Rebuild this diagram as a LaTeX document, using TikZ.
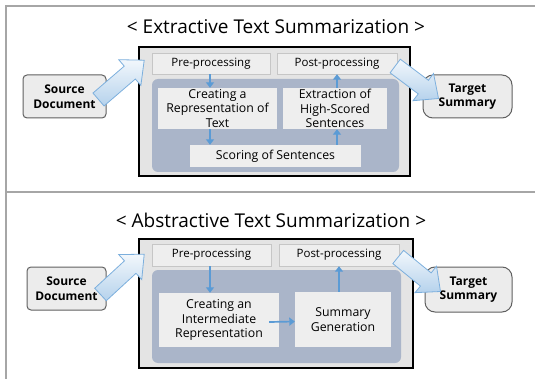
\documentclass[tikz,border=0pt]{standalone}
\usepackage{fontspec}
\setmainfont{Open Sans}
\usetikzlibrary{arrows.meta,calc}

\definecolor{framegray}{HTML}{A6A6A6}
\definecolor{boxgray}{HTML}{E4E4E4}
\definecolor{cellgray}{HTML}{EEEEEE}
\definecolor{zonecol}{HTML}{AAB5C9}
\definecolor{flowblue}{HTML}{5B9BD5}

% толстая стрелка от точки #1 к точке #2
\newcommand{\bigarrow}[2]{%
    \path[bigarrow] ($(#1)!8.5pt!90:(#2)$) -- ($($(#2)!19pt!(#1)$)!8.5pt!-90:(#1)$)
        -- ($($(#2)!19pt!(#1)$)!17pt!-90:(#1)$) -- (#2)
        -- ($($(#2)!19pt!(#1)$)!17pt!90:(#1)$) -- ($($(#2)!19pt!(#1)$)!8.5pt!90:(#1)$)
        -- ($(#1)!8.5pt!-90:(#2)$) -- cycle;}

\begin{document}
\begin{tikzpicture}[
        x=1pt, y=-1pt, % координаты в пикселях, ось y вниз
        framing/.style = {draw=framegray, line width=1.3pt},
        heading/.style = {font=\fontsize{19}{22}\selectfont},
        mainbox/.style = {draw=black, line width=1.6pt, fill=boxgray, inner sep=0},
        stage/.style = {draw=gray!45, fill=cellgray, inner sep=0, font=\fontsize{11.5}{13}\selectfont},
        zone/.style = {fill=zonecol, rounded corners=6pt, inner sep=0},
        cell/.style = {fill=cellgray, inner sep=0, align=center, font=\fontsize{12.3}{14.5}\selectfont}, % блоки внутри
        doc/.style = {draw=gray!75!black, line width=1pt, fill=gray!15, rounded corners=4pt, inner sep=0,
                align=center, font=\bfseries\fontsize{12}{14.5}\selectfont},
        flow/.style = {draw=flowblue, line width=1.7pt, -{Triangle[length=5.5pt,width=8pt]}},
        bigarrow/.style = {draw=flowblue!80, line width=0.8pt, line join=miter,
                top color=flowblue!8, bottom color=flowblue!45},
    ]
    \useasboundingbox (0,0) rectangle (535,379);
    \clip (0,0) rectangle (535,379);

    % рамка таблицы
    \draw[framing] (6,400) -- (6,6) -- (560,6);
    \draw[framing] (6,192) -- (560,192);

    % верхняя часть
    \node[heading] (t1) at (276,27) {< Extractive Text Summarization >};
    \node[mainbox, minimum width=271pt, minimum height=129pt] (m1) at (274.5,111.5) {};
    \node[stage, minimum width=118pt, minimum height=21pt] (pre1) at (211,63.5) {Pre-processing};
    \node[stage, minimum width=120pt, minimum height=21pt] (post1) at (337,63.5) {Post-processing};
    \node[zone, minimum width=247pt, minimum height=93pt] (z1) at (275.5,125.5) {};
    \node[cell, minimum width=119pt, minimum height=41pt] (rep1) at (217.5,108.5) {Creating a\\Representation of\\Text};
    \node[cell, minimum width=104pt, minimum height=41pt] (ext1) at (335,108.5) {Extraction of\\High-Scored\\Sentences};
    \node[cell, minimum width=171pt, minimum height=22pt] (sco1) at (275.5,156) {Scoring of Sentences};
    \node[doc, minimum width=83pt, minimum height=43pt] (src1) at (64.5,96.5) {Source\\Document};
    \node[doc, rounded corners=10pt, minimum width=89pt, minimum height=43pt] (tgt1) at (467.5,96.5) {Target\\Summary};

    \draw[flow] ([xshift=-1pt]pre1.south) -- ([xshift=-1pt]pre1.south |- rep1.north);
    \draw[flow] (rep1.south -| 210,0) -- (sco1.north -| 210,0);
    \draw[flow] (sco1.north -| post1.south) -- (ext1.south -| post1.south);
    \draw[flow] (ext1.north -| post1.south) -- (post1.south);

    \coordinate (in1a) at ([xshift=-8pt,yshift=-3pt]src1.east);
    \coordinate (in1b) at ([xshift=6pt,yshift=-14pt]m1.north west);
    \bigarrow{in1a}{in1b}
    \coordinate (out1a) at ([xshift=-2pt,yshift=-2.5pt]post1.east);
    \coordinate (out1b) at ([xshift=16pt,yshift=-2pt]tgt1.west);
    \bigarrow{out1a}{out1b}

    % нижняя часть
    \begin{scope}[shift={(0,190)}]
        \node[heading] (t2) at (271,30) {< Abstractive Text Summarization >};
        \node[mainbox, minimum width=274pt, minimum height=129pt] (m2) at (276,113.5) {};
        \node[stage, minimum width=119pt, minimum height=22pt] (pre2) at (211.5,65) {Pre-processing};
        \node[stage, minimum width=120pt, minimum height=22pt] (post2) at (339,65) {Post-processing};
        \node[zone, minimum width=249pt, minimum height=93pt] (z2) at (276.5,126.5) {};
        \node[cell, minimum width=120pt, minimum height=54pt] (rep2) at (219,130) {Creating an\\Intermediate\\Representation};
        \node[cell, minimum width=96pt, minimum height=55pt] (gen2) at (343,129.5) {Summary\\Generation};
        \node[doc, minimum width=79pt, minimum height=43pt] (src2) at (66.5,98.5) {Source\\Document};
        \node[doc, rounded corners=10pt, minimum width=87pt, minimum height=45pt] (tgt2) at (468.5,99.5) {Target\\Summary};

        \draw[flow] ([xshift=-1.5pt]pre2.south) -- ([xshift=-1.5pt]pre2.south |- rep2.north);
        \draw[flow] ([xshift=-10pt,yshift=-2pt]rep2.east) -- ([yshift=-2pt]gen2.west);
        \draw[flow] (gen2.north -| post2.south) -- (post2.south);

        \coordinate (in2a) at ([xshift=-6pt,yshift=-6pt]src2.east);
        \coordinate (in2b) at ([xshift=6pt,yshift=-16pt]m2.north west);
        \bigarrow{in2a}{in2b}
        \coordinate (out2a) at ([xshift=-1pt,yshift=-2pt]post2.east);
        \coordinate (out2b) at ([xshift=16pt,yshift=-2pt]tgt2.west);
        \bigarrow{out2a}{out2b}
    \end{scope}
\end{tikzpicture}
\end{document}
